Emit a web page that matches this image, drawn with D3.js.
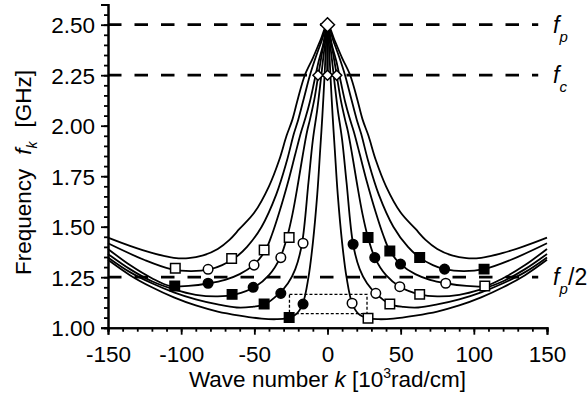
<!DOCTYPE html>
<html>
<head>
<meta charset="utf-8">
<script src="https://cdn.jsdelivr.net/npm/d3@7"></script>
<style>
  body { margin: 0; background: #fff; }
  svg { display: block; font-family: Arial, "Liberation Sans", sans-serif; }
</style>
</head>
<body>
<div id="chart"></div>
<script>
// dispersion curves, right half (k >= 0); the left half is the mirror image
const curve1 = [[0,2.5],[5,2.42],[10,2.335],[15.5,2.25],[20,2.14],[24,2.03],[28,1.95],[33,1.83],[40,1.70],[50,1.57],[60,1.49],[67,1.435],[75,1.39],[85,1.358],[95,1.344],[105,1.346],[120,1.37],[135,1.405],[150,1.446]];
const curve2 = [[0,2.5],[4,2.42],[8,2.34],[12,2.25],[16,2.14],[20,2.03],[23,1.96],[28,1.82],[35,1.66],[45,1.50],[55,1.40],[63,1.347],[72,1.31],[80,1.29],[93,1.28],[107,1.29],[125,1.335],[150,1.418]];
const curve3 = [[0,2.5],[3,2.4],[6,2.32],[9,2.22],[12,2.12],[15,2.04],[18,1.97],[22,1.86],[27,1.72],[33,1.57],[38,1.46],[42.6,1.38],[49.9,1.315],[60,1.265],[70,1.237],[80.8,1.22],[95,1.207],[107.5,1.206],[120,1.245],[135,1.31],[150,1.39]];
const curve4 = [[0,2.5],[2,2.43],[4,2.35],[6.3,2.25],[9,2.13],[12,2.03],[14,1.97],[17,1.85],[20,1.72],[24,1.56],[27.7,1.446],[32.3,1.347],[40,1.26],[49.4,1.203],[63,1.165],[75,1.155],[90,1.163],[105,1.19],[120,1.23],[135,1.29],[150,1.365]];
const curve5 = [[0,2.5],[1.5,2.42],[3,2.33],[5,2.2],[7,2.08],[10,1.93],[13,1.72],[17.5,1.413],[22,1.29],[27,1.22],[33,1.17],[42.6,1.117],[52,1.103],[62,1.10],[75,1.115],[90,1.14],[105,1.175],[120,1.22],[135,1.275],[150,1.348]];
const curve6 = [[0,2.5],[1,2.4],[2,2.25],[3.5,2.05],[5,1.88],[7,1.66],[10,1.42],[13,1.25],[16.8,1.121],[21,1.07],[27.7,1.047],[35,1.042],[45,1.045],[60,1.06],[75,1.08],[90,1.11],[105,1.15],[120,1.20],[135,1.26],[150,1.336]];
const curves = [curve1, curve2, curve3, curve4, curve5, curve6];

const centerLine = [[0,2.25],[0,2.5]];

// markers [k, f]
const openSquares = [[-104,1.294],[-65.5,1.343],[-43.3,1.385],[-26.2,1.446],[27.7,1.047],[42.6,1.117],[63,1.165],[107.5,1.206]];
const openCircles = [[-81.6,1.289],[-50.2,1.31],[-31.9,1.347],[-16.7,1.418],[16.8,1.121],[33,1.17],[49.4,1.203],[80.8,1.22]];
const filledCircles = [[-81.6,1.22],[-50.8,1.2],[-31.9,1.17],[-16.7,1.117],[17.5,1.413],[32.3,1.347],[49.9,1.315],[80,1.29]];
const filledSquares = [[-104.4,1.206],[-65.2,1.165],[-43.3,1.117],[-26.2,1.051],[27.7,1.446],[42.6,1.38],[63,1.347],[107,1.29]];
const diamonds = [[0,2.5,14],[-6.5,2.25,10],[0,2.25,10],[6.3,2.25,10]];

// reference levels
const levels = [2.5, 2.25, 1.25];
const levelEnd = 144;
const box = {k0: -26, k1: 27, f0: 1.07, f1: 1.165};

const xTicks = [-150, -100, -50, 0, 50, 100, 150];
const yTicks = [1.00, 1.25, 1.50, 1.75, 2.00, 2.25, 2.50];

const width = 588, height = 398;
const fs = 22.5;

const svg = d3.select("#chart").append("svg")
  .attr("width", width)
  .attr("height", height);

const x = d3.scaleLinear().domain([-150, 150]).range([108, 547]);
const y = d3.scaleLinear().domain([1.0, 2.6]).range([327.7, 4.5]);

// dashed levels
svg.append("g")
  .selectAll("line")
  .data(levels)
  .join("line")
  .attr("x1", x(-150))
  .attr("x2", x(levelEnd))
  .attr("y1", d => y(d))
  .attr("y2", d => y(d))
  .attr("stroke", "#000")
  .attr("stroke-width", 2.7)
  .attr("stroke-dasharray", "13.5,13");

// dotted box
svg.append("rect")
  .attr("x", x(box.k0))
  .attr("y", y(box.f1))
  .attr("width", x(box.k1) - x(box.k0))
  .attr("height", y(box.f0) - y(box.f1))
  .attr("fill", "none")
  .attr("stroke", "#000")
  .attr("stroke-width", 1.3)
  .attr("stroke-dasharray", "3,2");

const line = d3.line()
  .x(d => x(d[0]))
  .y(d => y(d[1]))
  .curve(d3.curveCatmullRom.alpha(0.5));

const mirrored = c => c.slice(1).map(d => [-d[0], d[1]]).reverse().concat(c);

svg.append("g")
  .attr("fill", "none")
  .attr("stroke", "#000")
  .attr("stroke-width", 1.8)
  .selectAll("path")
  .data(curves)
  .join("path")
  .attr("d", d => line(mirrored(d)));

svg.append("path")
  .attr("d", d3.line().x(d => x(d[0])).y(d => y(d[1]))(centerLine))
  .attr("stroke", "#000")
  .attr("stroke-width", 2.5);

// axes
const xAxis = svg.append("g")
  .attr("transform", `translate(0,${y(1.0)})`)
  .call(d3.axisBottom(x).tickValues(d3.range(-150, 151, 10)).tickSize(4).tickFormat(""));
xAxis.append("g")
  .call(d3.axisBottom(x).tickValues(xTicks).tickSize(7).tickFormat(d => d < 0 ? "-" + Math.abs(d) : String(d)));

const yAxis = svg.append("g")
  .attr("transform", `translate(${x(-150)},0)`)
  .call(d3.axisLeft(y).tickValues(d3.range(1.0, 2.601, 0.05)).tickSize(4).tickFormat(""));
yAxis.append("g")
  .call(d3.axisLeft(y).tickValues(yTicks).tickSize(7).tickFormat(d3.format(".2f")));

svg.selectAll(".domain").attr("stroke-width", 2);
svg.selectAll(".tick line").attr("stroke-width", 1.8);
svg.selectAll(".tick text").attr("font-size", fs).attr("font-family", "Arial, 'Liberation Sans', sans-serif").attr("fill", "#000");
xAxis.selectAll(".tick text").attr("y", 18).attr("dy", "0.71em");
yAxis.selectAll(".tick text").attr("x", -13).attr("dy", "0.36em");

// markers
const sym = (type, s) => d3.symbol().type(type).size(s)();
svg.append("g").selectAll("path")
  .data(openSquares).join("path")
  .attr("transform", d => `translate(${x(d[0])},${y(d[1])})`)
  .attr("d", sym(d3.symbolSquare, 90))
  .attr("fill", "#fff").attr("stroke", "#000").attr("stroke-width", 1.5);
svg.append("g").selectAll("path")
  .data(filledSquares).join("path")
  .attr("transform", d => `translate(${x(d[0])},${y(d[1])})`)
  .attr("d", sym(d3.symbolSquare, 90))
  .attr("fill", "#000").attr("stroke", "#000").attr("stroke-width", 1.5);
svg.append("g").selectAll("circle")
  .data(openCircles).join("circle")
  .attr("cx", d => x(d[0])).attr("cy", d => y(d[1])).attr("r", 4.8)
  .attr("fill", "#fff").attr("stroke", "#000").attr("stroke-width", 1.5);
svg.append("g").selectAll("circle")
  .data(filledCircles).join("circle")
  .attr("cx", d => x(d[0])).attr("cy", d => y(d[1])).attr("r", 4.8)
  .attr("fill", "#000").attr("stroke", "#000").attr("stroke-width", 1.5);
svg.append("g").selectAll("path")
  .data(diamonds).join("path")
  .attr("transform", d => `translate(${x(d[0])},${y(d[1])})`)
  .attr("d", d => `M0,${-d[2]/2}L${d[2]/2},0L0,${d[2]/2}L${-d[2]/2},0Z`)
  .attr("fill", "#fff").attr("stroke", "#000").attr("stroke-width", 1.5);

// level labels
const lab = svg.append("g").attr("font-size", 23).attr("fill", "#000");
const fLabel = (yy, sub, tail) => {
  lab.append("text").attr("x", 553).attr("y", y(yy) + 8)
    .attr("font-style", "italic").text("f");
  lab.append("text").attr("x", 559.5).attr("y", y(yy) + 17)
    .attr("font-style", "italic").attr("font-size", 15).text(sub);
  if (tail) lab.append("text").attr("x", 568).attr("y", y(yy) + 8).text(tail);
};
fLabel(2.5, "p");
fLabel(2.25, "c");
fLabel(1.25, "p", "/2");

// axis titles
const xt = svg.append("text")
  .attr("x", x(0))
  .attr("y", 387)
  .attr("text-anchor", "middle")
  .attr("font-size", fs);
xt.append("tspan").text("Wave number ");
xt.append("tspan").attr("font-style", "italic").text("k");
xt.append("tspan").text(" [10");
xt.append("tspan").attr("font-size", 14).attr("dy", -9).text("3");
xt.append("tspan").attr("dy", 9).text("rad/cm]");

const yt = svg.append("text")
  .attr("transform", "translate(31,275) rotate(-90)")
  .attr("font-size", fs);
yt.append("tspan").text("Frequency");
yt.append("tspan").attr("dx", 14).attr("font-style", "italic").text("f");
yt.append("tspan").attr("font-style", "italic").attr("font-size", 14).attr("dy", 6).text("k");
yt.append("tspan").attr("dx", 14).attr("dy", -6).text("[GHz]");
</script>
</body>
</html>
